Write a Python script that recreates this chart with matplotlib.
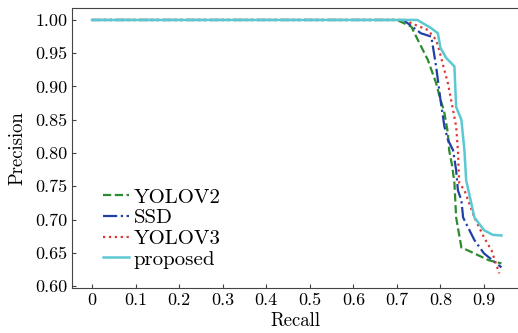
import matplotlib
matplotlib.use("Agg")
import matplotlib.pyplot as plt

plt.rcParams['font.family'] = ['serif']
plt.rcParams['font.serif'] = ['cmr10', 'DejaVu Serif']
plt.rcParams['axes.formatter.use_mathtext'] = True

# Data
yolov2_r = [0.0, 0.70, 0.733, 0.748, 0.771, 0.79, 0.80, 0.808, 0.817, 0.82, 0.827, 0.832, 0.836, 0.848, 0.878, 0.91, 0.94]
yolov2_p = [1.0, 1.0, 0.99, 0.97, 0.94, 0.905, 0.88, 0.864, 0.83, 0.804, 0.78, 0.755, 0.703, 0.658, 0.649, 0.639, 0.634]

ssd_r = [0.0, 0.715, 0.725, 0.755, 0.779, 0.79, 0.794, 0.80, 0.809, 0.817, 0.829, 0.836, 0.84, 0.848, 0.852, 0.878, 0.90, 0.94]
ssd_p = [1.0, 1.0, 0.995, 0.98, 0.975, 0.93, 0.91, 0.88, 0.84, 0.82, 0.804, 0.774, 0.744, 0.729, 0.703, 0.669, 0.649, 0.628]

yolov3_r = [0.0, 0.72, 0.733, 0.771, 0.79, 0.797, 0.806, 0.817, 0.829, 0.836, 0.84, 0.843, 0.855, 0.878, 0.90, 0.917, 0.935]
yolov3_p = [1.0, 1.0, 0.995, 0.985, 0.97, 0.955, 0.932, 0.905, 0.864, 0.84, 0.804, 0.755, 0.744, 0.703, 0.673, 0.654, 0.619]

prop_r = [0.0, 0.747, 0.778, 0.794, 0.80, 0.813, 0.825, 0.832, 0.836, 0.848, 0.855, 0.859, 0.878, 0.90, 0.92, 0.94]
prop_p = [1.0, 1.0, 0.988, 0.98, 0.958, 0.943, 0.935, 0.93, 0.869, 0.85, 0.804, 0.759, 0.703, 0.684, 0.677, 0.676]

xticks = [0, 0.1, 0.2, 0.3, 0.4, 0.5, 0.6, 0.7, 0.8, 0.9]
xtick_labels = ['0', '0.1', '0.2', '0.3', '0.4', '0.5', '0.6', '0.7', '0.8', '0.9']
yticks = [0.60, 0.65, 0.70, 0.75, 0.80, 0.85, 0.90, 0.95, 1.00]
ytick_labels = ['0.60', '0.65', '0.70', '0.75', '0.80', '0.85', '0.90', '0.95', '1.00']

fig = plt.figure(figsize=(5.18, 3.33), dpi=100)
ax = fig.add_axes([0.139, 0.135, 0.861, 0.841])

ax.plot(yolov2_r, yolov2_p, '--', color='#2e8b2e', lw=1.6, label='YOLOV2')
ax.plot(ssd_r, ssd_p, '-.', color='#2040a8', lw=1.6, label='SSD')
ax.plot(yolov3_r, yolov3_p, ':', color='#e03535', lw=1.6, label='YOLOV3')
ax.plot(prop_r, prop_p, '-', color='#5cc8d2', lw=1.8, label='proposed')

ax.set_xlim(-0.046, 0.978)
ax.set_ylim(0.597, 1.018)
ax.set_xticks(xticks)
ax.set_xticklabels(xtick_labels)
ax.set_yticks(yticks)
ax.set_yticklabels(ytick_labels)
ax.tick_params(direction='in', labelsize=13, length=3, color='#444444')
ax.set_xlabel('Recall', fontsize=13.5, labelpad=3)
ax.set_ylabel('Precision', fontsize=13.5, labelpad=6)
ax.spines['right'].set_visible(False)
for s in ['left', 'top', 'bottom']:
    ax.spines[s].set_color('#444444')

ax.legend(loc='lower left', frameon=False, fontsize=15, handlelength=1.25,
          borderaxespad=0.0, labelspacing=0.1, handletextpad=0.25,
          bbox_to_anchor=(0.05, 0.04))

fig.savefig('out.png', dpi=100)
